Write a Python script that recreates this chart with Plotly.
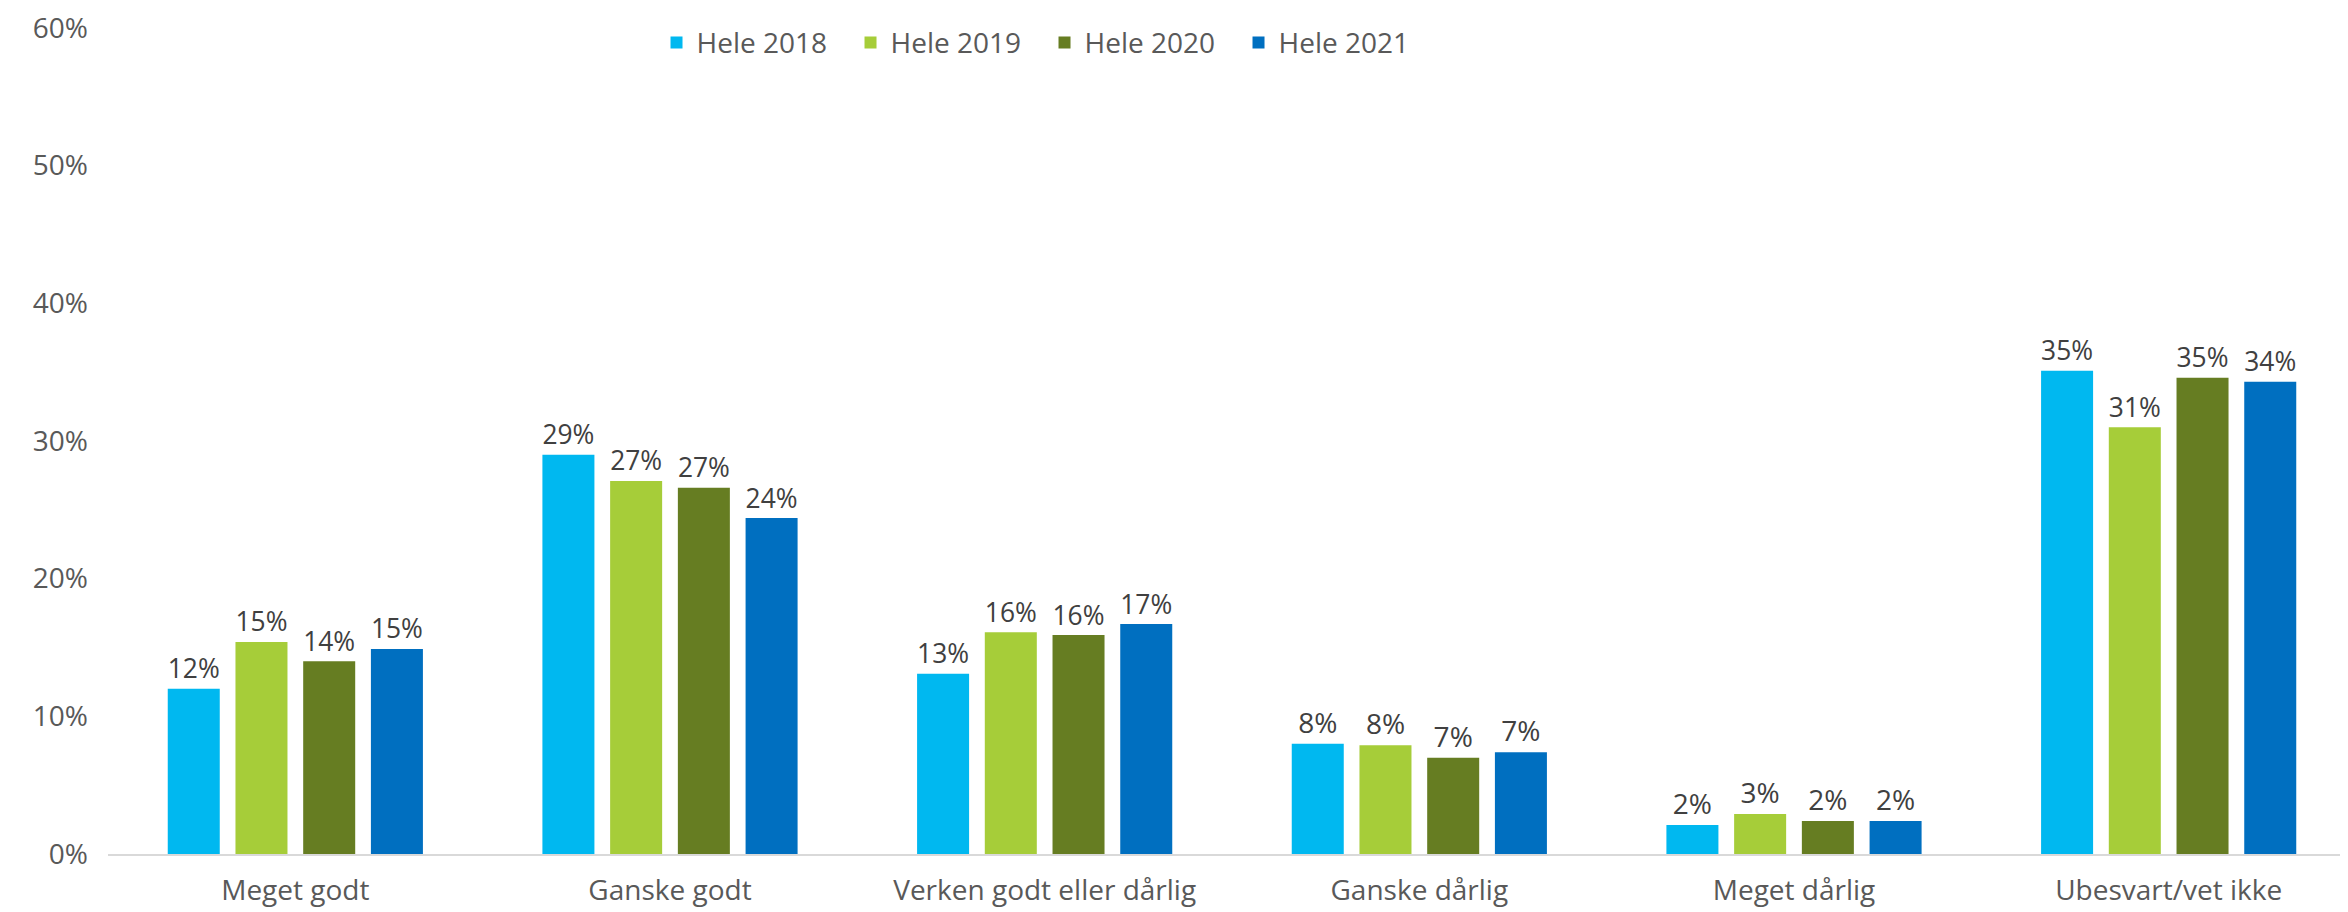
import plotly.graph_objects as go

categories = ["Meget godt", "Ganske godt", "Verken godt eller dårlig",
              "Ganske dårlig", "Meget dårlig", "Ubesvart/vet ikke"]
series_names = ["Hele 2018", "Hele 2019", "Hele 2020", "Hele 2021"]
hele_2018 = [12.0, 29.0, 13.1, 8.0, 2.1, 35.1]
hele_2019 = [15.4, 27.1, 16.1, 7.9, 2.9, 31.0]
hele_2020 = [14.0, 26.6, 15.9, 7.0, 2.4, 34.6]
hele_2021 = [14.9, 24.4, 16.7, 7.4, 2.4, 34.3]
y_ticks = [0, 10, 20, 30, 40, 50, 60]
y_tick_labels = ["0%", "10%", "20%", "30%", "40%", "50%", "60%"]

colors = ["#00B8F0", "#A6CD39", "#667D22", "#006FC0"]
all_series = [hele_2018, hele_2019, hele_2020, hele_2021]

FONT = "Open Sans, Segoe UI, sans-serif"

fig = go.Figure()
for name, vals, col in zip(series_names, all_series, colors):
    fig.add_trace(go.Bar(
        name=name, x=categories, y=vals,
        marker=dict(color=col, line=dict(width=0)),
        texttemplate="%{y:.0f}%", textposition="outside",
        textfont=dict(family=FONT, size=28, color="#404040"),
        cliponaxis=False,
    ))

fig.update_layout(
    width=2348, height=912,
    margin=dict(l=100, r=0, t=17, b=66),
    paper_bgcolor="white", plot_bgcolor="white",
    barmode="group", bargap=0.277, bargroupgap=0.232,
    font=dict(family=FONT, color="#595959"),
    showlegend=True,
    legend=dict(
        orientation="h", x=0.244, xanchor="left", y=0.982, yanchor="middle",
        font=dict(family=FONT, size=28, color="#595959"),
        entrywidth=149, entrywidthmode="pixels",
        bgcolor="rgba(0,0,0,0)", traceorder="normal",
    ),
    xaxis=dict(
        showgrid=False, showline=True, linecolor="#D9D9D9", linewidth=2,
        ticks="", tickfont=dict(family=FONT, size=28, color="#595959"),
        ticklabelstandoff=10,
    ),
    yaxis=dict(
        range=[0, 60], tickvals=y_ticks, ticktext=y_tick_labels,
        showgrid=False, zeroline=False, showline=False,
        tickfont=dict(family=FONT, size=28, color="#595959"),
        ticklabelstandoff=19, ticklabeloverflow="allow",
    ),
)

fig.write_html("out.html")
